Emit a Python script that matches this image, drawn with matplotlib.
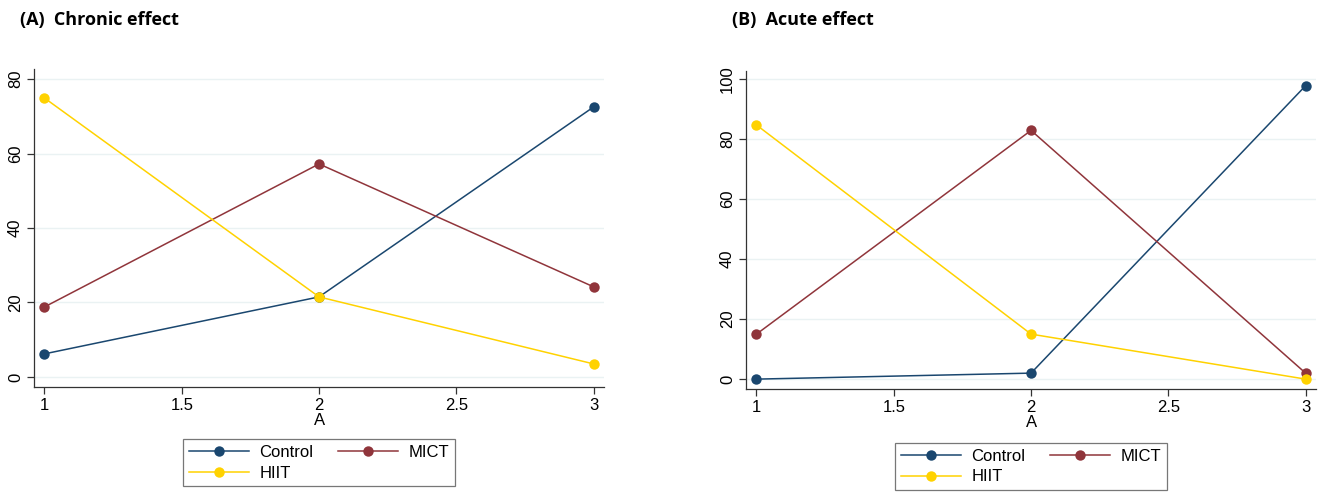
import matplotlib.pyplot as plt

x = [1, 2, 3]

# panel A - chronic effect
chronic_control = [6.2, 21.5, 72.5]
chronic_mict = [18.8, 57.2, 24.2]
chronic_hiit = [74.9, 21.5, 3.5]

# panel B - acute effect
acute_control = [0.0, 2.0, 97.8]
acute_mict = [15.0, 82.9, 2.0]
acute_hiit = [84.7, 15.0, 0.0]

series_names = ["Control", "MICT", "HIIT"]
colors = ["#1a476f", "#90353b", "#ffd200"]

plt.rcParams["font.family"] = ["Liberation Sans", "DejaVu Sans"]

fig = plt.figure(figsize=(13.2, 4.92), dpi=100)


def draw_panel(rect, data, ylim, yticks, title, legend_top):
    ax = fig.add_axes(rect)
    handles = []
    for vals, name, c in zip(data, series_names, colors):
        h, = ax.plot(x, vals, color=c, lw=1.1, marker="o", ms=7.5,
                     markeredgewidth=0, label=name, zorder=3)
        handles.append(h)
    ax.set_xlim(0.962, 3.038)
    ax.set_ylim(*ylim)
    ax.set_xticks([1, 1.5, 2, 2.5, 3])
    ax.set_xticklabels(["1", "1.5", "2", "2.5", "3"])
    ax.set_yticks(yticks)
    ax.set_yticklabels([str(t) for t in yticks], rotation=90, va="center")
    ax.grid(axis="y", color="#eaf2f3", lw=1.0, zorder=0)
    for s in ["top", "right"]:
        ax.spines[s].set_visible(False)
    for s in ["left", "bottom"]:
        ax.spines[s].set_color("#333333")
        ax.spines[s].set_linewidth(0.9)
    ax.tick_params(axis="both", labelsize=12, length=5, width=0.9,
                   color="#333333", pad=3)
    ax.set_xlabel("A", fontsize=12, labelpad=0)
    cx = (rect[0] + rect[0] + rect[2]) / 2
    # column-major fill: Control, HIIT | MICT  -> rows: Control MICT / HIIT
    order = [0, 2, 1]
    leg = fig.legend(handles=[handles[i] for i in order],
                     labels=[series_names[i] for i in order], ncol=2,
                     loc="upper center",
                     bbox_to_anchor=(cx, legend_top), fontsize=12,
                     frameon=True, fancybox=False, edgecolor="#555555",
                     handlelength=3.6, handletextpad=0.6, columnspacing=1.5,
                     borderpad=0.35, labelspacing=0.35, borderaxespad=0)
    leg.get_frame().set_linewidth(0.9)
    fig.text(rect[0] - 0.011, 0.96, title, fontsize=13, fontweight="bold",
             family=["Open Sans", "DejaVu Sans"], va="center")
    return ax


draw_panel([0.0258, 0.2134, 0.4318, 0.6464],
           [chronic_control, chronic_mict, chronic_hiit],
           (-2.7, 82.7), [0, 20, 40, 60, 80], "(A)  Chronic effect", 0.108)
draw_panel([0.5652, 0.2093, 0.4318, 0.6464],
           [acute_control, acute_mict, acute_hiit],
           (-3.3, 102.7), [0, 20, 40, 60, 80, 100], "(B)  Acute effect", 0.1)

fig.savefig("out.png", dpi=100)
